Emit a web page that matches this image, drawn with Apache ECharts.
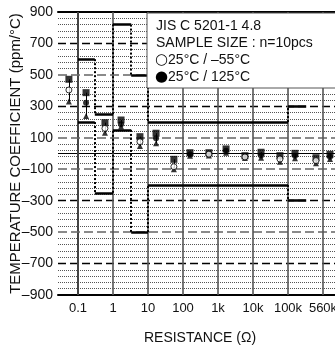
<!DOCTYPE html>
<html><head><meta charset="utf-8">
<script src="https://cdn.jsdelivr.net/npm/echarts@6/dist/echarts.min.js"></script>
<style>html,body{margin:0;padding:0;background:#fff}#c{width:335px;height:347px}</style>
</head><body><div id="c"></div>
<script>
// x positions are in "decade" units: 0 = 0.1 ohm, 1 = 1 ohm, ... 7 = 560k
const tickPos = [0, 1, 2, 3, 4, 5, 6, 7];
const tickLabels = ['0.1', '1', '10', '100', '1k', '10k', '100k', '560k'];

// measured points: left of each tick = 25/-55, right = 25/125
const xPos     = [-0.26, 0.23, 0.77, 1.23, 1.77, 2.23, 2.74, 3.2, 3.74, 4.23, 4.77, 5.23, 5.77, 6.2, 6.8, 7.2];
const testType = ['cold','hot','cold','hot','cold','hot','cold','hot','cold','hot','cold','hot','cold','hot','cold','hot'];
const maxVals  = [472, 387, 196, 213, 107, 129, -37, 5, 5, 29, -14, 8, -14, 1, -27, -5];
const meanVals = [404, 323, 160, 186, 75, 97, -84, -5, -4, 17, -22, -12, -35, -15, -45, -20];
const minVals  = [330, 239, 132, 172, 48, 65, -100, -14, -13, 5, -29, -27, -52, -30, -62, -35];

// specification limit steps
const limitEdges = [0, 0.48, 1, 1.52, 2, 6, 6.52];
const upperLimit = [600, 250, 820, 500, 200, 300];
const lowerLimit = [200, -250, 150, -500, -200, -300];

// horizontal reference lines
const dashedBlack = [700, 300, -300, -700];
const dashedGray = [500, 100, -100, -500];
const solidRef = [0];

const legendTitle = ['JIS C 5201-1 4.8', 'SAMPLE SIZE : n=10pcs'];
const legendItems = [['\u25CB', '25°C / \u201355°C'], ['\u25CF', '25°C / 125°C']];

const FONT = "'Liberation Sans', Arial, sans-serif";
const NARROW = "'Liberation Sans Narrow', 'Arial Narrow', 'Liberation Sans', Arial, sans-serif";

const X_MIN = -0.5714, X_MAX = 7.543;

const gridLines = [];
dashedBlack.forEach(v => gridLines.push({ yAxis: v, lineStyle: { color: '#000', width: 1.3, type: [8, 4] } }));
dashedGray.forEach(v => gridLines.push({ yAxis: v, lineStyle: { color: '#8a8a8a', width: 2, type: [9, 4] } }));
solidRef.forEach(v => gridLines.push({ yAxis: v, lineStyle: { color: '#000', width: 1, type: 'solid' } }));
tickPos.forEach(v => gridLines.push({ xAxis: v, lineStyle: { color: '#555', width: 1.6, type: 'solid' } }));

const limitH = [], limitV = [];
function addLimit(vals) {
  vals.forEach((v, i) => {
    limitH.push([{ coord: [limitEdges[i], v] }, { coord: [limitEdges[i + 1], v] }]);
    if (i > 0) limitV.push([{ coord: [limitEdges[i], vals[i - 1]] }, { coord: [limitEdges[i], v] }]);
  });
}
addLimit(upperLimit);
addLimit(lowerLimit);

const bars = xPos.map((x, i) => [{ coord: [x, maxVals[i]] }, { coord: [x, minVals[i]] }]);

const pts = arr => xPos.map((x, i) => [x, arr[i]]);
const ptsBy = (arr, t) => xPos.map((x, i) => [x, arr[i]]).filter((p, i) => testType[i] === t);

const legendTexts = legendTitle.map((t, i) => ({
  type: 'text', z: 101, x: 156, y: [26, 43][i],
  style: { text: t, font: '14px ' + FONT, fill: '#111', verticalAlign: 'middle' }
})).concat(legendItems.map((it, i) => ({
  type: 'text', z: 101, x: 155, y: [60.5, 77.5][i],
  style: {
    text: '{s|' + it[0] + '}{t|' + it[1] + '}', verticalAlign: 'middle', fill: '#111',
    rich: {
      s: { fontFamily: "'DejaVu Sans', sans-serif", fontSize: 15, fill: '#000', verticalAlign: 'middle' },
      t: { fontFamily: FONT, fontSize: 14, fill: '#111', verticalAlign: 'middle' }
    }
  }
})));

const chart = echarts.init(document.getElementById('c'), null, { renderer: 'canvas' });
chart.setOption({
  animation: false,
  backgroundColor: '#fff',
  grid: { left: 58, right: -7, top: 12, bottom: 52, containLabel: false, outerBoundsMode: 'none' },
  xAxis: [{
    type: 'value', min: X_MIN, max: X_MAX, position: 'bottom',
    name: 'RESISTANCE (\u03A9)', nameLocation: 'middle', nameGap: 36, nameMoveOverlap: false,
    nameTextStyle: { fontFamily: FONT, fontSize: 14, color: '#111' },
    axisLine: { show: true, onZero: false, lineStyle: { color: '#000', width: 2 } },
    axisTick: { show: false, customValues: tickPos },
    splitLine: { show: false },
    axisLabel: { customValues: tickPos, formatter: v => tickLabels[tickPos.indexOf(Math.round(v))] || '', fontFamily: FONT, fontSize: 13, color: '#111', margin: 7 }
  }, {
    type: 'value', min: X_MIN, max: X_MAX, position: 'top',
    axisLine: { show: true, onZero: false, lineStyle: { color: '#000', width: 2 } },
    axisTick: { show: false }, axisLabel: { show: false }, splitLine: { show: false }
  }],
  yAxis: {
    type: 'value', min: -900, max: 900, interval: 200,
    name: 'TEMPERATURE COEFFICIENT (ppm/°C)', nameLocation: 'middle', nameGap: 35, nameMoveOverlap: false,
    nameTextStyle: { fontFamily: FONT, fontSize: 15, color: '#111' },
    axisLine: { show: true, lineStyle: { color: '#000', width: 2 } },
    axisTick: { show: false },
    splitLine: { show: false },
    minorTick: { show: false, splitNumber: 5 },
    minorSplitLine: { show: true, lineStyle: { color: '#555', width: 1, type: [1, 1] } },
    axisLabel: { formatter: v => String(v).replace('-', '\u2013'), fontFamily: NARROW, fontSize: 14, color: '#111', margin: 5 }
  },
  series: [
    { type: 'line', data: [], z: 1, silent: true,
      markLine: { silent: true, symbol: ['none', 'none'], label: { show: false }, animation: false, data: gridLines } },
    { type: 'line', data: [], z: 2, silent: true,
      markLine: { silent: true, symbol: ['none', 'none'], label: { show: false }, animation: false,
        lineStyle: { color: '#000', width: 2.5, type: 'solid' }, data: limitH } },
    { type: 'line', data: [], z: 2, silent: true,
      markLine: { silent: true, symbol: ['none', 'none'], label: { show: false }, animation: false,
        lineStyle: { color: '#000', width: 2, type: [2, 2] }, data: limitV } },
    { type: 'line', data: [], z: 3, silent: true,
      markLine: { silent: true, symbol: ['none', 'none'], label: { show: false }, animation: false,
        lineStyle: { color: '#000', width: 1, type: 'solid' }, data: bars } },
    { type: 'scatter', z: 4, symbol: 'triangle', symbolSize: 6, itemStyle: { color: '#000' }, data: pts(minVals), silent: true },
    { type: 'scatter', z: 5, symbol: 'rect', symbolSize: 7, itemStyle: { color: '#000' }, data: pts(maxVals), silent: true },
    { type: 'scatter', z: 6, symbol: 'circle', symbolSize: 6, itemStyle: { color: '#fff', borderColor: '#000', borderWidth: 1 }, data: ptsBy(meanVals, 'cold'), silent: true },
    { type: 'scatter', z: 6, symbol: 'circle', symbolSize: 6, itemStyle: { color: '#000' }, data: ptsBy(meanVals, 'hot'), silent: true }
  ],
  graphic: [
    { type: 'rect', z: 100, shape: { x: 147, y: 13, width: 200, height: 75 }, style: { fill: '#fff', stroke: '#555', lineWidth: 1 } }
  ].concat(legendTexts)
});
</script></body></html>
